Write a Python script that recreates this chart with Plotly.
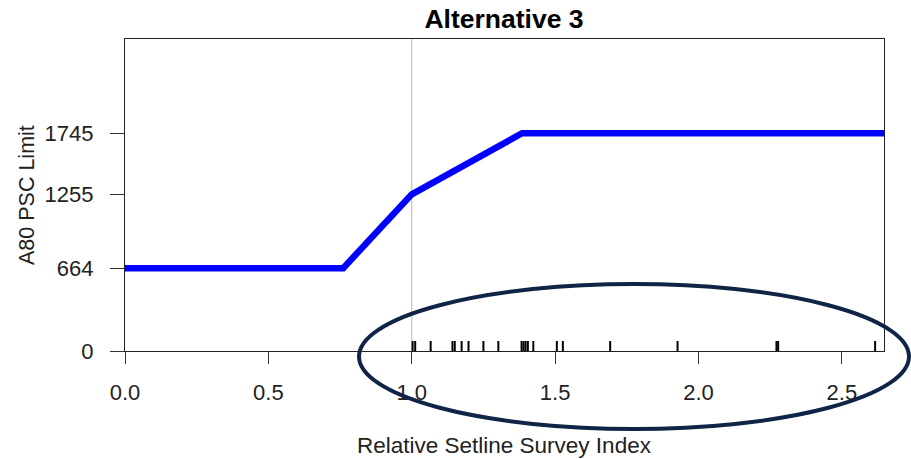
import plotly.graph_objects as go

# ---- data ----
limit_x = [0.0, 0.761, 1.0, 1.385, 2.647]
limit_y = [664, 664, 1255, 1745, 1745]
rug_x = [1.003, 1.012, 1.066, 1.142, 1.150, 1.174, 1.198, 1.250, 1.302,
         1.383, 1.390, 1.397, 1.405, 1.424, 1.506, 1.527, 1.692, 1.927,
         2.272, 2.278, 2.616]
x_ticks = [0.0, 0.5, 1.0, 1.5, 2.0, 2.5]
y_ticks = [0, 664, 1255, 1745]
x_range = [0, 2.647]
y_range = [0, 2500]

W, H = 911, 459
L, R, T, B = 125, 884, 39, 351  # plot area in pixels


def px(x):
    return (x - L) / (R - L)


def py(y):
    return (B - y) / (B - T)


FONT = "Liberation Sans, Arial, Helvetica, sans-serif"

fig = go.Figure()

# reference line at x = 1
fig.add_trace(go.Scatter(x=[1.0, 1.0], y=y_range, mode="lines",
                         line=dict(color="#c8c8c8", width=1.3),
                         hoverinfo="skip", showlegend=False))

# rug
rug_h = 0.032 * (y_range[1] - y_range[0])
rx, ry = [], []
for v in rug_x:
    rx += [v, v, None]
    ry += [0, rug_h, None]
fig.add_trace(go.Scatter(x=rx, y=ry, mode="lines",
                         line=dict(color="black", width=2),
                         hoverinfo="skip", showlegend=False))

# limit line
fig.add_trace(go.Scatter(x=limit_x, y=limit_y, mode="lines",
                         line=dict(color="#0000ff", width=6.5),
                         showlegend=False))

fig.update_layout(
    width=W, height=H,
    margin=dict(l=L, r=W - R, t=T, b=H - B, pad=0),
    paper_bgcolor="white", plot_bgcolor="white",
    font=dict(family=FONT, size=22, color="#222222"),
    title=dict(text="<b>Alternative 3</b>", x=px(504), xref="paper",
               y=1 - 19 / H, yref="container", xanchor="center",
               yanchor="middle", font=dict(size=26.5, color="black")),
    xaxis=dict(range=x_range, tickvals=x_ticks,
               ticktext=[f"{v:.1f}" for v in x_ticks],
               ticks="outside", ticklen=12, tickwidth=1.2, tickcolor="#333",
               showline=True, linecolor="#222", linewidth=1.2, mirror=True,
               showgrid=False, zeroline=False, ticklabelstandoff=9),
    yaxis=dict(range=y_range, tickvals=y_ticks,
               ticktext=[str(v) for v in y_ticks],
               ticks="outside", ticklen=14, tickwidth=1.2, tickcolor="#333",
               showline=True, linecolor="#222", linewidth=1.2, mirror=True,
               showgrid=False, zeroline=False, ticklabelstandoff=12),
    annotations=[
        dict(text="Relative Setline Survey Index", x=px(504), y=py(445),
             xref="paper", yref="paper", showarrow=False,
             xanchor="center", yanchor="middle", font=dict(size=22.5)),
        dict(text="A80 PSC Limit", x=px(27), y=py(195), textangle=-90,
             xref="paper", yref="paper", showarrow=False,
             xanchor="center", yanchor="middle", font=dict(size=21.5)),
    ],
    shapes=[
        dict(type="circle", xref="paper", yref="paper",
             x0=px(359), x1=px(909), y0=py(429), y1=py(284),
             line=dict(color="#0f2446", width=4), layer="above"),
    ],
)

fig.write_html("out.html")
